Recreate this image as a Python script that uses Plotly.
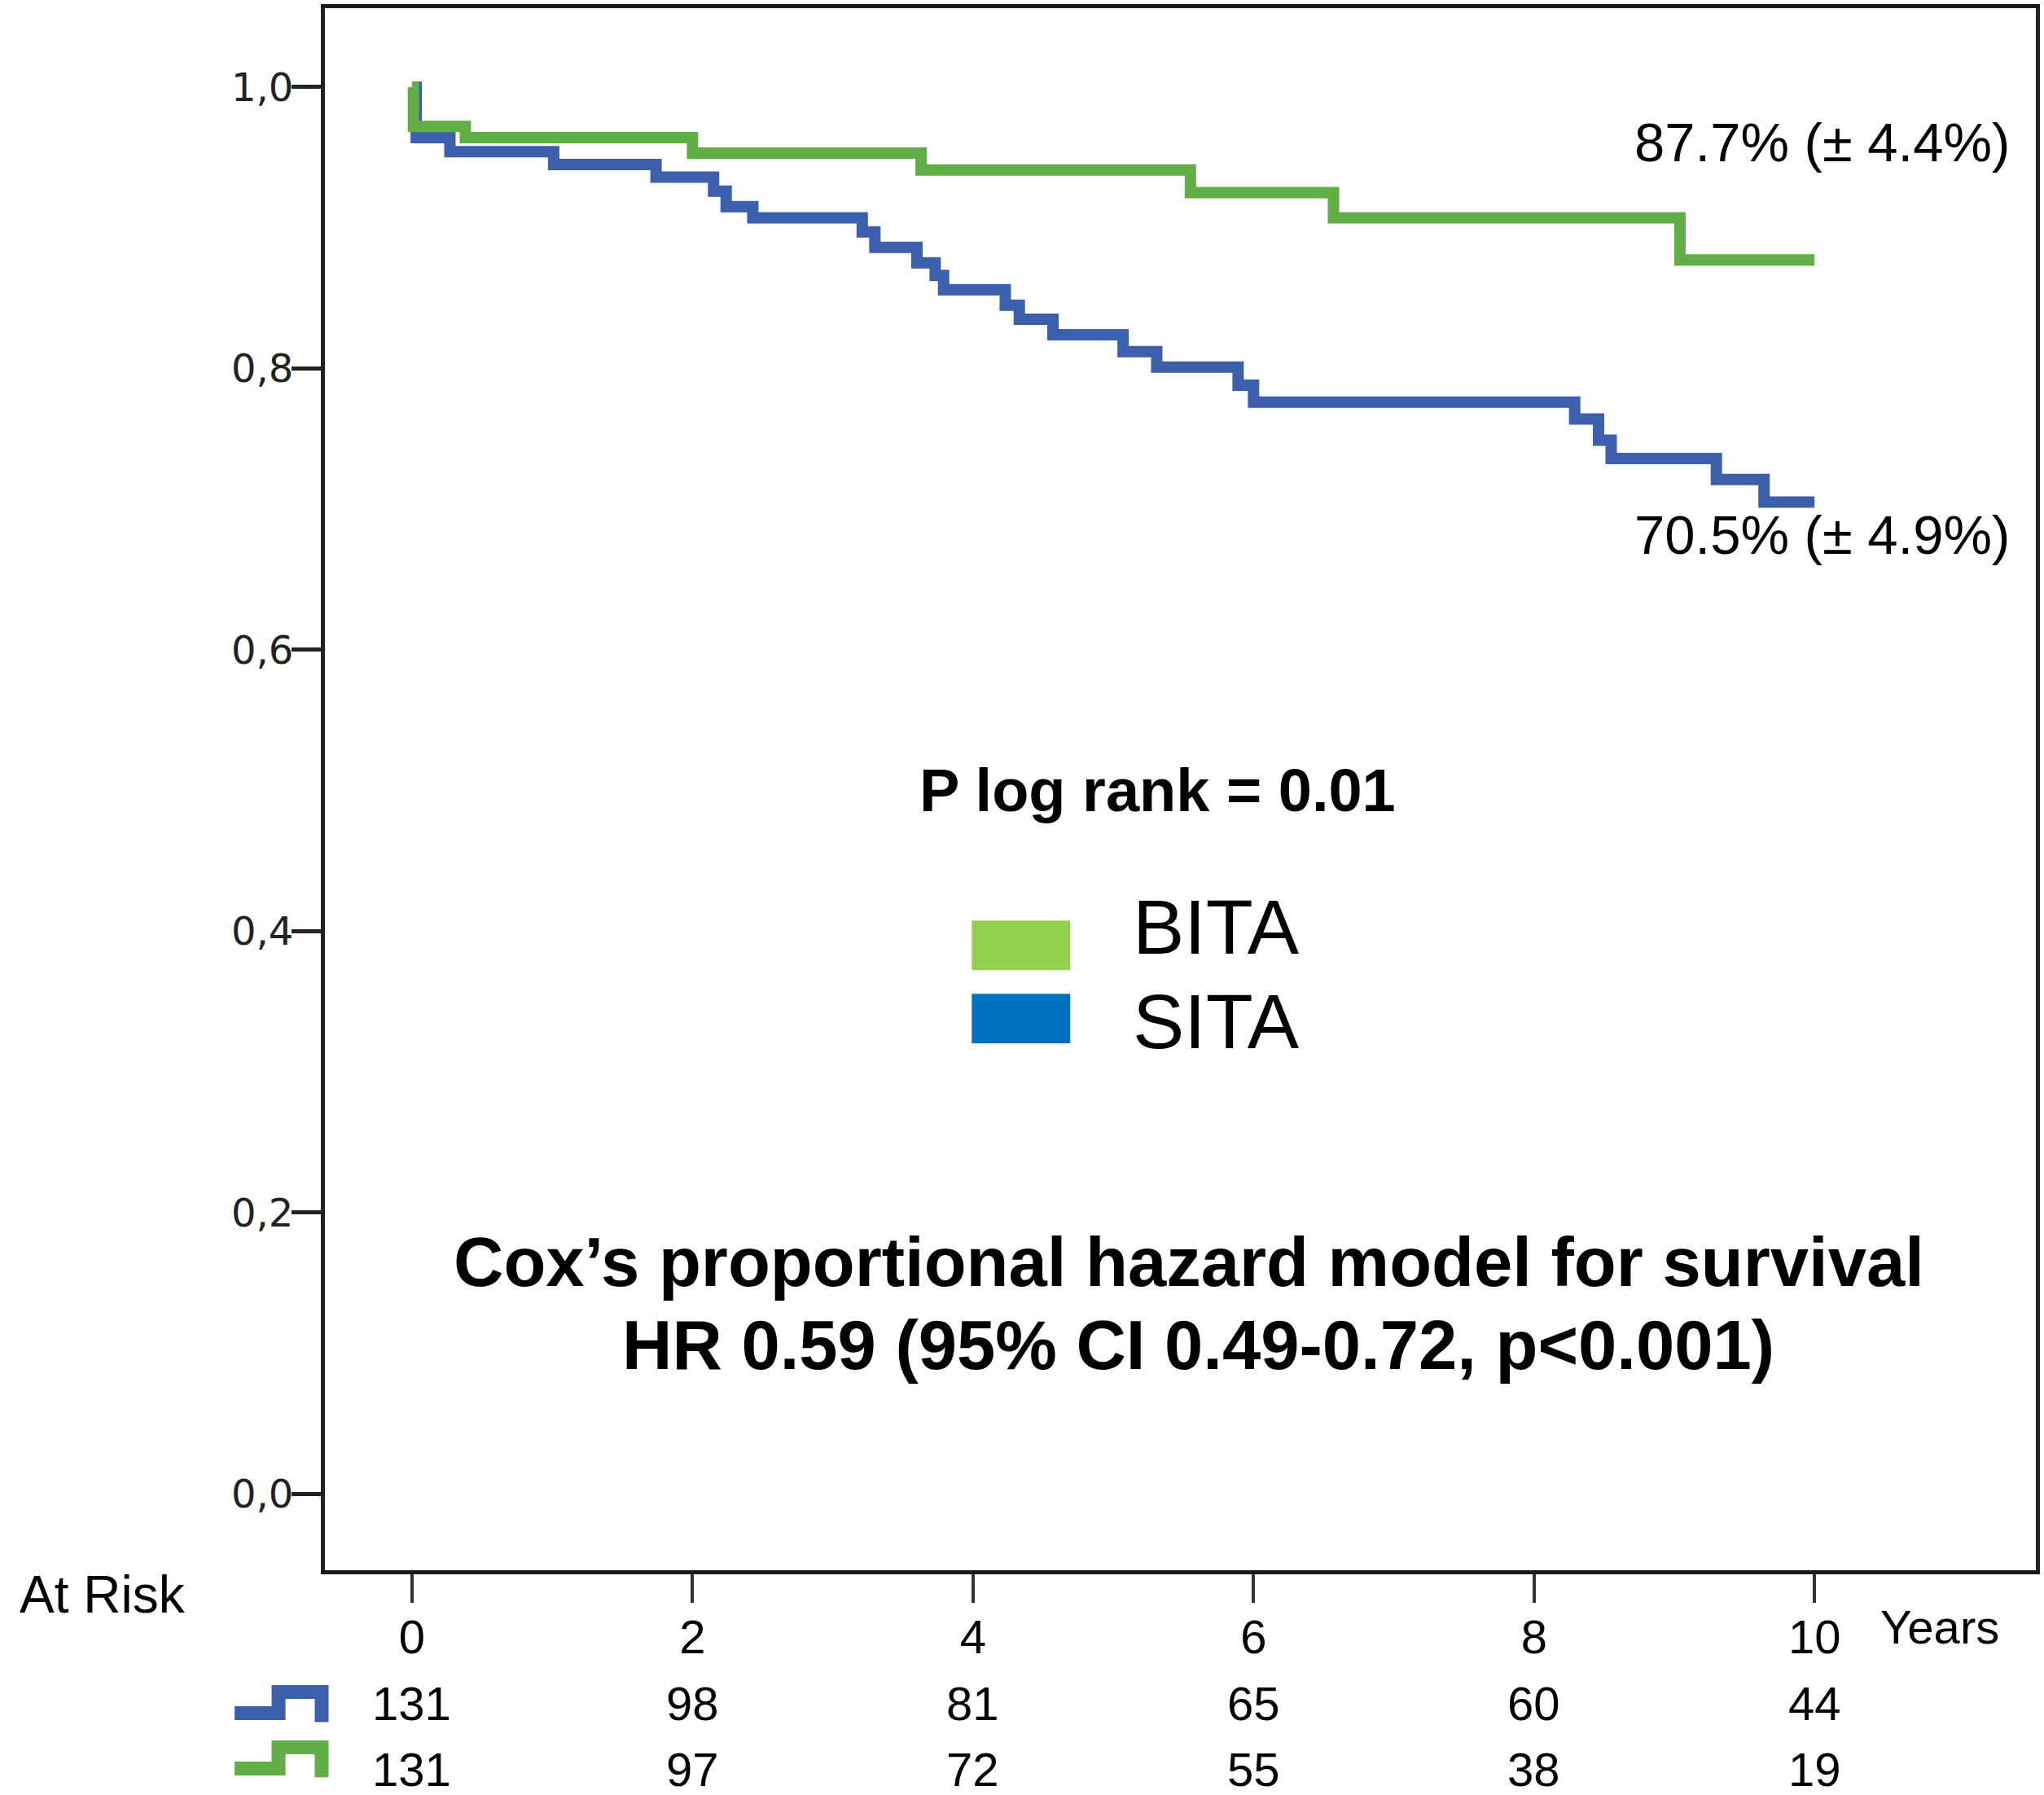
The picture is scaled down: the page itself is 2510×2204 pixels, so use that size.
import plotly.graph_objects as go

# ---------------- data ----------------
bita_time = [0, 0.01, 0.38, 2.00, 3.63, 5.55, 6.57, 9.04, 10.0]
bita_surv = [1.0, 0.972, 0.964, 0.953, 0.941, 0.925, 0.907, 0.877, 0.877]

sita_time = [0, 0.03, 0.27, 1.01, 1.74, 2.15, 2.24, 2.43, 3.21, 3.30, 3.60, 3.73,
             3.79, 4.23, 4.33, 4.57, 5.07, 5.31, 5.89, 6.00, 8.29, 8.46, 8.55,
             9.30, 9.64, 10.0]
sita_surv = [1.0, 0.964, 0.954, 0.945, 0.936, 0.926, 0.915, 0.907, 0.897, 0.886,
             0.875, 0.866, 0.856, 0.845, 0.835, 0.824, 0.812, 0.801, 0.788, 0.776,
             0.764, 0.749, 0.736, 0.721, 0.705, 0.705]

risk_years = [0, 2, 4, 6, 8, 10]
risk_sita = [131, 98, 81, 65, 60, 44]
risk_bita = [131, 97, 72, 55, 38, 19]

y_ticks = [0.0, 0.2, 0.4, 0.6, 0.8, 1.0]

GREEN_LINE = "#62ae46"
BLUE_LINE = "#3c60ab"
GREEN_LEG = "#92d050"
BLUE_LEG = "#0070c0"
FONT = "Liberation Sans, Arial, sans-serif"

fig = go.Figure()
fig.add_trace(go.Scatter(x=sita_time, y=sita_surv, mode="lines", name="SITA",
                         line=dict(color=BLUE_LINE, width=14, shape="hv")))
fig.add_trace(go.Scatter(x=bita_time, y=bita_surv, mode="lines", name="BITA",
                         line=dict(color=GREEN_LINE, width=14, shape="hv")))

annotations = []
def txt(x, y, s, size, bold=False, xanchor="center", yanchor="middle",
        xref="x", yref="y"):
    annotations.append(dict(
        x=x, y=y, xref=xref, yref=yref, text=(f"<b>{s}</b>" if bold else s),
        showarrow=False, xanchor=xanchor, yanchor=yanchor,
        font=dict(family=FONT, size=size, color="black")))

txt(11.404, 0.961, "87.7% (± 4.4%)", 67, xanchor="right")
txt(11.404, 0.682, "70.5% (± 4.9%)", 67, xanchor="right")
txt(5.316, 0.500, "P log rank = 0.01", 74, bold=True)
txt(5.130, 0.403, "BITA", 95, xanchor="left")
txt(5.130, 0.336, "SITA", 95, xanchor="left")
txt(5.542, 0.165, "Cox’s proportional hazard model for survival", 85, bold=True)
txt(5.609, 0.1056, "HR 0.59 (95% CI 0.49-0.72, p&lt;0.001)", 85, bold=True)

# below-axis texts
txt(-0.130, -0.0156, "At Risk", 64, xref="paper", yref="paper")
txt(0.908, -0.036, "Years", 58, xanchor="left", xref="paper", yref="paper")
for yr, a, b in zip(risk_years, risk_sita, risk_bita):
    txt(yr, -0.0853, str(a), 58, yref="paper")
    txt(yr, -0.1274, str(b), 58, yref="paper")

shapes = [
    dict(type="rect", xref="x", yref="y", x0=3.991, x1=4.693, y0=0.3723, y1=0.4075,
         fillcolor=GREEN_LEG, line=dict(width=0)),
    dict(type="rect", xref="x", yref="y", x0=3.991, x1=4.693, y0=0.3202, y1=0.3555,
         fillcolor=BLUE_LEG, line=dict(width=0)),
    dict(type="path", xref="paper", yref="paper",
         path="M -0.0528,-0.0915 L -0.0271,-0.0915 L -0.0271,-0.0780 L -0.0019,-0.0780 L -0.0019,-0.0973",
         line=dict(color=BLUE_LINE, width=17)),
    dict(type="path", xref="paper", yref="paper",
         path="M -0.0528,-0.1269 L -0.0271,-0.1269 L -0.0271,-0.1134 L -0.0019,-0.1134 L -0.0019,-0.1326",
         line=dict(color=GREEN_LINE, width=17)),
]

fig.update_layout(
    width=2510, height=2204,
    margin=dict(l=399, r=8, t=5, b=276),
    paper_bgcolor="white", plot_bgcolor="white",
    showlegend=False,
    separators=",.",
    annotations=annotations,
    shapes=shapes,
    xaxis=dict(range=[-0.621, 11.578], tickvals=risk_years,
               ticktext=[str(v) for v in risk_years],
               showgrid=False, zeroline=False, showline=True, linewidth=5,
               linecolor="#1a1a1a", mirror=True, ticks="outside", ticklen=35,
               tickwidth=4, tickcolor="#333", ticklabelstandoff=-8,
               tickfont=dict(family=FONT, size=58, color="black")),
    yaxis=dict(range=[-0.0543, 1.0561], tickvals=y_ticks, tickformat=".1f",
               showgrid=False, zeroline=False, showline=True, linewidth=5,
               linecolor="#222", mirror=True, ticks="outside", ticklen=36,
               tickwidth=5, tickcolor="#222", ticklabelstandoff=-12,
               tickfont=dict(family="DejaVu Sans, sans-serif", size=48, color="#222")),
)

fig.write_html("out.html", config={"displayModeBar": False},
               post_script="document.body.style.margin='0';document.body.style.overflow='hidden';")
